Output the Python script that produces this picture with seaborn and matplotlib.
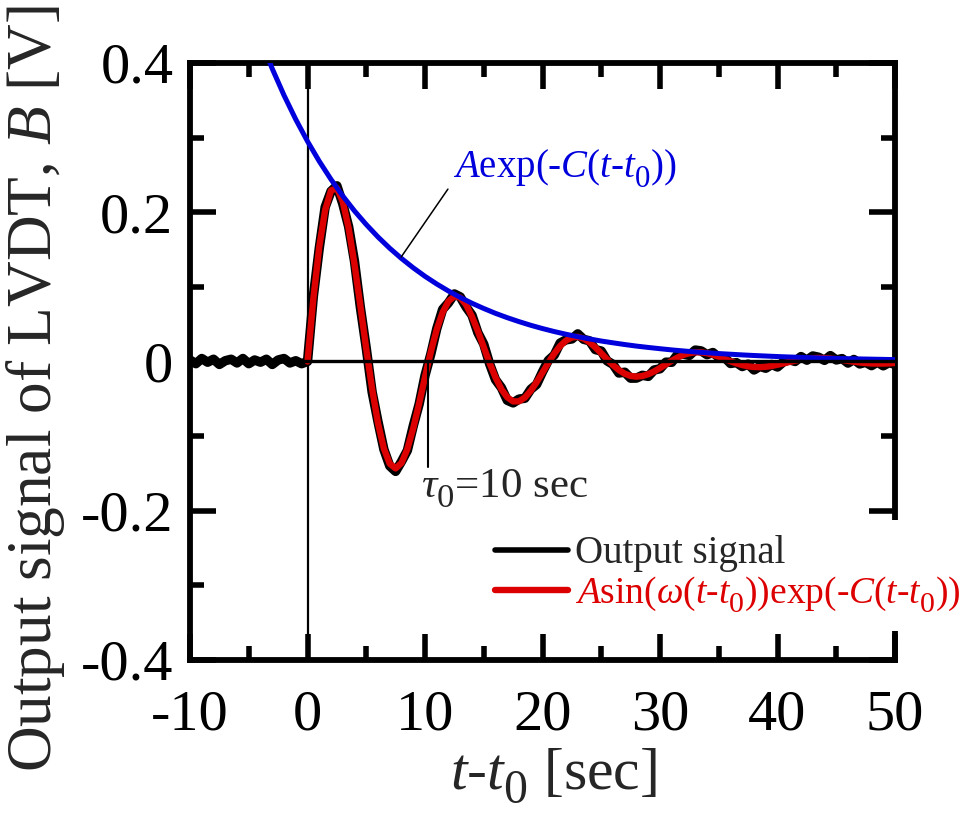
import numpy as np
import matplotlib
matplotlib.use("Agg")
import matplotlib.pyplot as plt
from matplotlib.lines import Line2D
from matplotlib.ticker import MultipleLocator, FixedLocator, FixedFormatter
import seaborn as sns

try:
    # larger, lower subscripts for the t_0 / tau_0 symbols
    import matplotlib._mathtext as _mt
    _mt.SHRINK_FACTOR = 0.8
    _mt.FontConstantsBase.sub1 = 0.55
    _mt.FontConstantsBase.sub2 = 0.75
except Exception:
    pass

sns.set_style("white")
plt.rcParams.update({
    "font.family": ["Liberation Serif", "DejaVu Serif"],
    "mathtext.fontset": "custom",
    "mathtext.rm": "Liberation Serif",
    "mathtext.it": "Liberation Serif:italic",
    "mathtext.bf": "Liberation Serif:bold",
    "axes.unicode_minus": False,
})

# Measured LVDT output, sampled every 0.5 s from t-t0 = -10 s to 50 s
t_signal = np.arange(-10.0, 50.01, 0.5)
signal_v = [
    0.0020, -0.0030, 0.0040, -0.0010, 0.0030, -0.0040, 0.0010, 0.0030, -0.0020, 0.0040,
    -0.0030, 0.0020, -0.0010, 0.0030, -0.0040, 0.0020, 0.0040, -0.0020, 0.0010, -0.0030,
    0.0000, 0.0875, 0.1517, 0.2068, 0.2281, 0.2354, 0.2113, 0.1807, 0.1342, 0.0724,
    0.0178, -0.0410, -0.0808, -0.1178, -0.1400, -0.1473, -0.1340, -0.1192, -0.0864, -0.0572,
    -0.0188, 0.0102, 0.0439, 0.0698, 0.0787, 0.0905, 0.0865, 0.0730, 0.0620, 0.0385,
    0.0232, -0.0032, -0.0244, -0.0351, -0.0520, -0.0555, -0.0504, -0.0493, -0.0373, -0.0307,
    -0.0139, 0.0014, 0.0086, 0.0247, 0.0290, 0.0302, 0.0370, 0.0297, 0.0277, 0.0159,
    0.0140, 0.0008, -0.0039, -0.0155, -0.0144, -0.0224, -0.0223, -0.0185, -0.0200, -0.0114,
    -0.0098, -0.0009, -0.0011, 0.0093, 0.0098, 0.0081, 0.0153, 0.0142, 0.0091, 0.0120,
    0.0054, 0.0054, -0.0027, -0.0015, -0.0068, -0.0035, -0.0114, -0.0066, -0.0091, -0.0040,
    -0.0074, -0.0006, 0.0023, 0.0000, 0.0066, 0.0017, 0.0074, 0.0057, 0.0015, 0.0079,
    0.0020, 0.0039, -0.0022, 0.0027, -0.0033, -0.0011, -0.0056, -0.0008, -0.0058, -0.0015,
    -0.0040,
]

# Fitted damped sine, every 0.5 s from 0 to 50 s
t_fit = np.arange(0.0, 50.01, 0.5)
fit_v = [
    0.0000, 0.0845, 0.1537, 0.2028, 0.2291, 0.2324, 0.2143, 0.1787, 0.1302, 0.0744,
    0.0168, -0.0370, -0.0828, -0.1168, -0.1370, -0.1433, -0.1360, -0.1172, -0.0894, -0.0562,
    -0.0208, 0.0132, 0.0429, 0.0658, 0.0807, 0.0875, 0.0855, 0.0760, 0.0600, 0.0405,
    0.0192, -0.0022, -0.0214, -0.0371, -0.0480, -0.0535, -0.0534, -0.0483, -0.0393, -0.0277,
    -0.0149, -0.0016, 0.0106, 0.0207, 0.0280, 0.0322, 0.0330, 0.0307, 0.0257, 0.0189,
    0.0110, 0.0028, -0.0049, -0.0115, -0.0164, -0.0194, -0.0203, -0.0195, -0.0170, -0.0134,
    -0.0088, -0.0039, 0.0009, 0.0053, 0.0088, 0.0111, 0.0123, 0.0122, 0.0111, 0.0090,
    0.0064, 0.0034, 0.0003, -0.0025, -0.0048, -0.0065, -0.0074, -0.0076, -0.0071, -0.0060,
    -0.0044, -0.0026, -0.0007, 0.0010, 0.0026, 0.0037, 0.0044, 0.0047, 0.0045, 0.0039,
    0.0030, 0.0019, 0.0008, -0.0003, -0.0013, -0.0021, -0.0026, -0.0028, -0.0028, -0.0025,
    -0.0020,
]

# Decay envelope, every 1 s from -4 to 50 s
t_env = np.arange(-4.0, 50.01, 1.0)
env_v = [
    0.4314, 0.3923, 0.3567, 0.3244, 0.2950, 0.2683, 0.2440, 0.2218, 0.2017, 0.1835,
    0.1668, 0.1517, 0.1380, 0.1255, 0.1141, 0.1038, 0.0944, 0.0858, 0.0780, 0.0710,
    0.0645, 0.0587, 0.0534, 0.0485, 0.0441, 0.0401, 0.0365, 0.0332, 0.0302, 0.0274,
    0.0250, 0.0227, 0.0206, 0.0188, 0.0171, 0.0155, 0.0141, 0.0128, 0.0117, 0.0106,
    0.0097, 0.0088, 0.0080, 0.0073, 0.0066, 0.0060, 0.0055, 0.0050, 0.0045, 0.0041,
    0.0037, 0.0034, 0.0031, 0.0028, 0.0025,
]

xticks = [-10, 0, 10, 20, 30, 40, 50]
xticklabels = ["-10", "0", "10", "20", "30", "40", "50"]
yticks = [-0.4, -0.2, 0.0, 0.2, 0.4]
yticklabels = ["-0.4", "-0.2", "0", "0.2", "0.4"]

period_label = r"$\tau_0$=10 sec"
period_mark = 10.25

black = "#000000"
red = "#dd0000"
blue = "#0000dd"

fig = plt.figure(figsize=(9.66, 8.18), dpi=100)
ax = fig.add_axes([0.1967, 0.1932, 0.7298, 0.7298])

ax.axvline(0, color=black, lw=1.6, zorder=1)

sns.lineplot(x=t_signal, y=signal_v, ax=ax, color=black, lw=6.8,
             estimator=None, sort=False, legend=False, zorder=2)
sns.lineplot(x=t_fit, y=fit_v, ax=ax, color=red, lw=4.6,
             estimator=None, sort=False, legend=False, zorder=3)
sns.lineplot(x=t_env, y=env_v, ax=ax, color=blue, lw=3.6,
             estimator=None, sort=False, legend=False, zorder=4)

ax.axhline(0, color=black, lw=2.4, zorder=5)

# period marker
ax.plot([period_mark, period_mark], [0.0, -0.142], color=black, lw=1.5, zorder=5)
ax.text(16.8, -0.171, period_label, fontsize=31, ha="center", va="center")

# envelope label with leader line
ax.plot([7.97, 11.95], [0.140, 0.231], color=black, lw=1.1, zorder=5)
ax.text(12.4, 0.258, r"$A$exp(-$C$($t$-$t_0$))", fontsize=28, color=blue,
        ha="left", va="center")

ax.set_xlim(-10, 50)
ax.set_ylim(-0.4, 0.4)
ax.xaxis.set_major_locator(FixedLocator(xticks))
ax.xaxis.set_major_formatter(FixedFormatter(xticklabels))
ax.yaxis.set_major_locator(FixedLocator(yticks))
ax.yaxis.set_major_formatter(FixedFormatter(yticklabels))
ax.xaxis.set_minor_locator(MultipleLocator(5))
ax.yaxis.set_minor_locator(MultipleLocator(0.1))

ax.tick_params(which="both", direction="in", width=4,
               bottom=True, left=True, top=True, right=True, colors=black)
ax.tick_params(which="major", length=19, labelsize=42)
ax.tick_params(which="minor", length=10)
ax.tick_params(axis="x", which="major", pad=21)
ax.tick_params(axis="y", which="major", pad=12)
for s in ax.spines.values():
    s.set_linewidth(4.2)
    s.set_color(black)

ax.set_xlabel(r"$t$-$t_0$ [sec]", fontsize=43)
ax.xaxis.set_label_coords(0.515, -0.145)
ax.xaxis.label.set_va("top")
ax.set_ylabel(r"Output signal of LVDT, $B$ [V]", fontsize=45.5)
ax.yaxis.set_label_coords(-0.175, 0.455)

handles = [
    Line2D([], [], color=black, lw=4.0),
    Line2D([], [], color=red, lw=4.6),
]
labels = ["Output signal", r"$A$sin($\omega$($t$-$t_0$))exp(-$C$($t$-$t_0$))"]
leg = ax.legend(handles, labels, loc="upper left", bbox_to_anchor=(0.41, 0.235),
                frameon=True, fancybox=False, facecolor="white", edgecolor="none",
                framealpha=1.0, fontsize=28, handlelength=1.88, handletextpad=0.18,
                borderpad=0.4, borderaxespad=0, labelspacing=0.05)
leg.set_zorder(10)
leg.get_texts()[1].set_color(red)
leg.get_texts()[1].set_fontsize(27)

fig.savefig("out.png", dpi=100)
